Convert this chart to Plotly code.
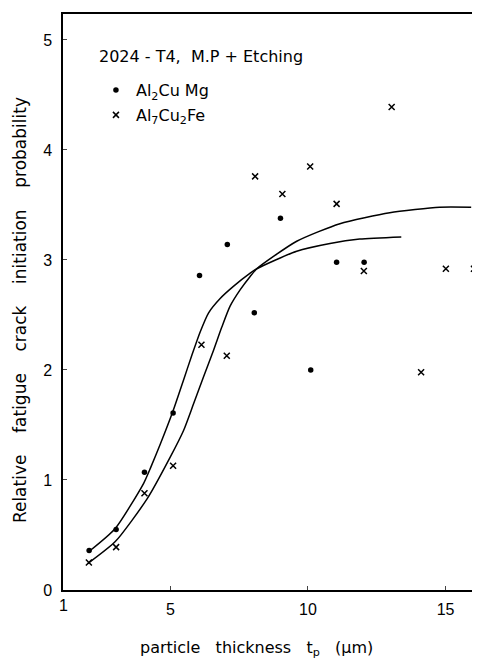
import plotly.graph_objects as go

# Al2CuMg particles (dots)
dot_x = [2.05, 3.03, 4.06, 5.1, 6.06, 7.07, 8.05, 9.0, 10.1, 11.04, 12.04]
dot_y = [0.36, 0.55, 1.07, 1.61, 2.86, 3.14, 2.52, 3.38, 2.0, 2.98, 2.98]

# Al7Cu2Fe particles (crosses)
cross_x = [2.04, 3.03, 4.06, 5.1, 6.13, 7.05, 8.08, 9.07, 10.08, 11.04, 12.03, 13.04, 14.11, 15.01, 16.03]
cross_y = [0.25, 0.39, 0.88, 1.13, 2.23, 2.13, 3.76, 3.6, 3.85, 3.51, 2.9, 4.39, 1.98, 2.92, 2.92]

# Hand-drawn trend curves
curveA_x = [2.04, 3.0, 4.03, 4.28, 4.64, 5.1, 5.48, 5.79, 6.09, 6.39, 6.81, 7.29, 7.9, 8.14, 9.59, 10.8, 11.88, 13.39]
curveA_y = [0.35, 0.56, 0.97, 1.11, 1.33, 1.63, 1.91, 2.14, 2.35, 2.52, 2.65, 2.76, 2.88, 2.92, 3.08, 3.15, 3.19, 3.21]
curveB_x = [2.0, 3.0, 4.16, 5.0, 5.48, 5.84, 6.21, 6.57, 6.87, 7.17, 7.54, 7.9, 8.14, 9.59, 11.16, 12.97, 14.78, 15.93]
curveB_y = [0.24, 0.44, 0.83, 1.21, 1.45, 1.69, 1.94, 2.18, 2.39, 2.58, 2.73, 2.85, 2.92, 3.17, 3.33, 3.43, 3.48, 3.48]

x_ticks = [5, 10, 15]
y_ticks = [0, 1, 2, 3, 4, 5]
x_range = [1.1, 16.25]

FONT = "DejaVu Sans"
NB = "\u00a0"

fig = go.Figure()
line_style = dict(color="black", width=1.5, shape="spline", smoothing=0.6)
fig.add_trace(go.Scatter(x=curveA_x, y=curveA_y, mode="lines", line=line_style, showlegend=False))
fig.add_trace(go.Scatter(x=curveB_x, y=curveB_y, mode="lines", line=line_style, showlegend=False))
fig.add_trace(go.Scatter(x=dot_x, y=dot_y, mode="markers", name="Al<sub>2</sub>Cu" + NB + "Mg", legend="legend",
                         marker=dict(symbol="circle", size=5.5, color="black")))
fig.add_trace(go.Scatter(x=cross_x, y=cross_y, mode="markers", name="Al<sub>7</sub>Cu<sub>2</sub>Fe", legend="legend2",
                         marker=dict(symbol="x-thin", size=6, color="black", line=dict(color="black", width=1.5))))

leg_common = dict(xanchor="left", yanchor="middle", bgcolor="rgba(0,0,0,0)", borderwidth=0,
                  font=dict(family=FONT, size=16), itemsizing="trace")

# the page places the figure 8px from the top-left corner, so the figure is 472x652
fig.update_layout(
    width=472, height=652,
    margin=dict(l=55, r=0, t=6, b=70, autoexpand=False),
    paper_bgcolor="white", plot_bgcolor="white",
    font=dict(family=FONT, size=15, color="black"),
    legend=dict(x=0.079, y=0.868, **leg_common),
    legend2=dict(x=0.079, y=0.8247, **leg_common),
    xaxis=dict(range=x_range, tickvals=x_ticks, ticks="inside", ticklen=4, tickwidth=1, automargin=False,
               showline=True, linecolor="black", linewidth=1.5, mirror=True, showgrid=False, zeroline=False,
               tickfont=dict(family="Liberation Sans", size=16), ticklabelstandoff=4),
    yaxis=dict(range=[0, 5.236], tickvals=y_ticks, ticks="inside", ticklen=4, tickwidth=1, automargin=False,
               showline=True, linecolor="black", linewidth=1.5, mirror=False, showgrid=False, zeroline=False,
               tickfont=dict(family="Liberation Sans", size=16), ticklabelstandoff=6),
)

# tick label "1" at the left end of the x axis (just outside the axis range)
fig.add_annotation(x=(1 - x_range[0]) / (x_range[1] - x_range[0]), y=0, xref="paper", yref="paper", text="1",
                   showarrow=False, yanchor="top", yshift=-5, xshift=-3, font=dict(family="Liberation Sans", size=16))
# legend title
fig.add_annotation(x=0.0815, y=0.927, xref="paper", yref="paper",
                   text="2024" + NB + "-" + NB + "T4," + NB + NB + "M.P" + NB + "+" + NB + "Etching",
                   showarrow=False, xanchor="left", yanchor="middle", font=dict(size=16))
fig.add_annotation(x=0.465, y=-0.1007, xref="paper", yref="paper",
                   text=(NB * 3).join(["particle", "thickness", "t<sub>p</sub>", "(\u03bcm)"]),
                   showarrow=False, xanchor="center", yanchor="middle", font=dict(size=16))
fig.add_annotation(x=-0.103, y=0.486, xref="paper", yref="paper",
                   text=(NB * 4).join(["Relative", "fatigue", "crack", "initiation", "probability"]),
                   textangle=-90, showarrow=False, xanchor="center", yanchor="middle", font=dict(size=17))

fig.write_html("out.html")
